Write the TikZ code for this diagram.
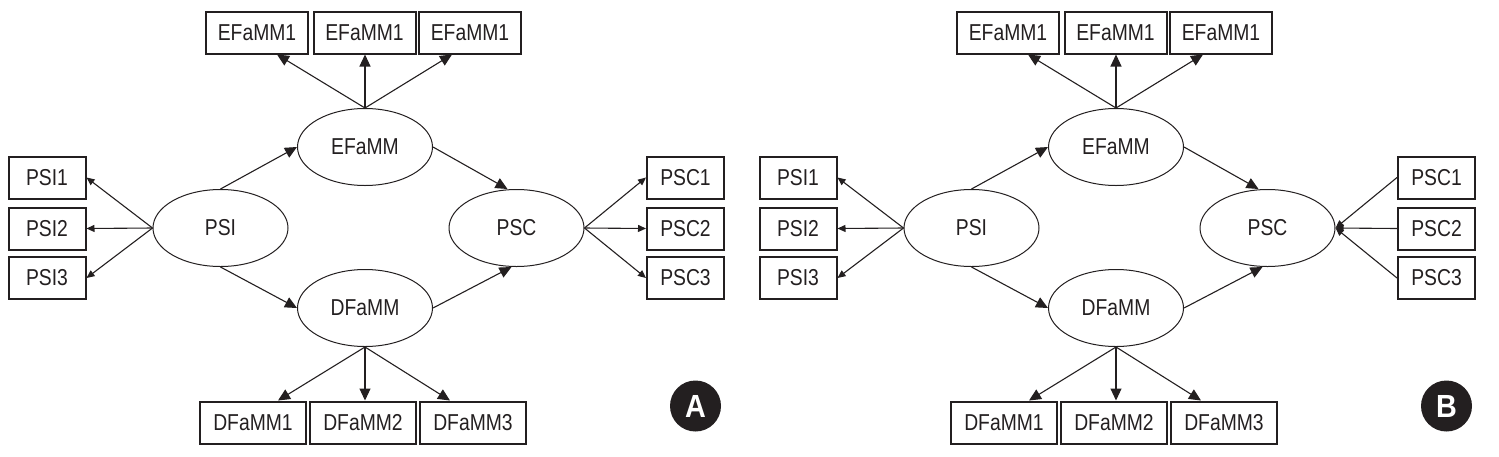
\documentclass[tikz,border=0pt]{standalone}
\usepackage{fontspec}
\setmainfont{Liberation Sans}[FakeStretch=0.84]
\newfontfamily\badgefont{Liberation Sans}[FakeStretch=0.9]
\usetikzlibrary{shapes.geometric,arrows.meta,calc}
\definecolor{ink}{HTML}{231F20}
\tikzset{
  txt/.style={text=ink,font=\fontsize{23}{23}\selectfont},
  obs/.style={txt,draw=ink,line width=2pt,rectangle,inner sep=0pt,minimum height=42pt},
  obsE/.style={obs,minimum width=102pt},
  obsD/.style={obs,minimum width=106pt},
  obsS/.style={obs,minimum width=77pt},
  lat/.style={txt,draw=ink,line width=1pt,ellipse,inner sep=0pt,minimum width=135pt,minimum height=77pt},
  big/.style={draw=ink,line width=1.1pt,-{Triangle[length=12pt,width=11pt]}},
  small/.style={draw=ink,line width=1.1pt,-{Triangle[length=8pt,width=7pt]}},
  badge/.style={circle,fill=ink,inner sep=0pt,minimum size=51pt,text=white,font=\badgefont\bfseries\fontsize{32}{32}\selectfont}
}
\newcommand\drawpanel[3]{%
\begin{scope}[xshift=#2pt]
\node[lat] (#1EF) at (365,147) {EFaMM};
\node[lat] (#1DF) at (365,308) {DFaMM};
\node[lat] (#1PSI) at (220.5,228) {PSI};
\node[lat] (#1PSC) at (516.5,228) {PSC};
\node[obsE] (#1e1) at (257,32.5) {EFaMM1};
\node[obsE] (#1e2) at (364.5,32.5) {EFaMM1};
\node[obsE] (#1e3) at (470,32.5) {EFaMM1};
\node[obsD] (#1d1) at (253,422.5) {DFaMM1};
\node[obsD] (#1d2) at (363,422.5) {DFaMM2};
\node[obsD] (#1d3) at (473,422.5) {DFaMM3};
\node[obsS] (#1i1) at (47,177.5) {PSI1};
\node[obsS] (#1i2) at (47,228.5) {PSI2};
\node[obsS] (#1i3) at (47,278) {PSI3};
\node[obsS] (#1c1) at (685.5,177.5) {PSC1};
\node[obsS] (#1c2) at (685.5,228.5) {PSC2};
\node[obsS] (#1c3) at (685.5,278) {PSC3};
\node[badge] (#1badge) at (695.5,406) {#3};
\draw[big] (#1EF.north) -- ($(#1e1.south)+(20,0)$);
\draw[big] (#1EF.north) -- (#1EF.north |- #1e2.south);
\draw[big] (#1EF.north) -- ($(#1e3.south)+(-18,0)$);
\draw[big] (#1DF.south) -- ($(#1d1.north)+(25,0)$);
\draw[big] (#1DF.south) -- (#1DF.south |- #1d2.north);
\draw[big] (#1DF.south) -- ($(#1d3.north)+(-23,0)$);
\draw[small] (#1PSI.west) -- (#1i1.east);
\draw[small] (#1PSI.west) -- (#1i2.east);
\draw[small] (#1PSI.west) -- (#1i3.east);
\draw[big] (#1PSI.north) -- (#1EF.west);
\draw[big] (#1PSI.south) -- (#1DF.west);
\draw[big] (#1EF.east) -- ($(#1PSC.north)+(-9,0)$);
\draw[big] (#1DF.east) -- ($(#1PSC.south)+(-5,0)$);
\end{scope}}
\begin{document}
\begin{tikzpicture}[x=1pt,y=-1pt]
\useasboundingbox (0,0) rectangle (1499,456);
\drawpanel{a}{0}{A}
\drawpanel{b}{751}{B}
\draw[small] (aPSC.east) -- (ac1.west);
\draw[small] (aPSC.east) -- (ac2.west);
\draw[small] (aPSC.east) -- (ac3.west);
\draw[small] (bc1.west) -- (bPSC.east);
\draw[small] (bc2.west) -- (bPSC.east);
\draw[small] (bc3.west) -- (bPSC.east);
\end{tikzpicture}
\end{document}
